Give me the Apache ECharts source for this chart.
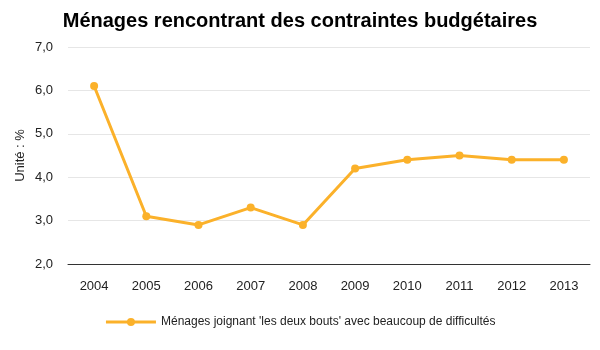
<!DOCTYPE html>
<html><head><meta charset="utf-8">
<script src="https://cdn.jsdelivr.net/npm/echarts@6/dist/echarts.min.js"></script>
<style>html,body{margin:0;padding:0;background:#fff}#c{width:600px;height:350px}</style>
</head><body><div id="c"></div>
<script>
const years = ['2004','2005','2006','2007','2008','2009','2010','2011','2012','2013'];
const values = [6.1, 3.1, 2.9, 3.3, 2.9, 4.2, 4.4, 4.5, 4.4, 4.4];
const seriesName = "Ménages joignant 'les deux bouts' avec beaucoup de difficultés";
const titleText = 'Ménages rencontrant des contraintes budgétaires';
const yName = 'Unité : %';
const font = 'Liberation Sans, Arial, sans-serif';
const chart = echarts.init(document.getElementById('c'));
chart.setOption({
  animation: false,
  title: {text: titleText, left: 'center', top: 6,
    textStyle: {fontFamily: font, fontSize: 20, fontWeight: 'bold', color: '#000'}},
  grid: {left: 68, right: 10, top: 47, bottom: 86},
  legend: {bottom: 17, left: 'center', itemWidth: 50, itemHeight: 10, itemGap: 5,
    textStyle: {fontFamily: font, fontSize: 12, color: '#222'},
    lineStyle: {width: 3},
    data: [{name: seriesName}]},
  xAxis: {type: 'category', data: years, boundaryGap: true,
    axisLine: {lineStyle: {color: '#333', width: 1}}, axisTick: {show: false},
    axisLabel: {fontFamily: font, fontSize: 13, color: '#222', margin: 16}},
  yAxis: {type: 'value', min: 2, max: 7, interval: 1,
    name: yName, nameLocation: 'middle', nameGap: 41, nameRotate: 90,
    nameMoveOverlap: false,
    nameTextStyle: {fontFamily: font, fontSize: 13, color: '#222'},
    axisLine: {show: false}, axisTick: {show: false},
    axisLabel: {fontFamily: font, fontSize: 13, color: '#222', margin: 15,
      formatter: v => v.toFixed(1).replace('.', ',')},
    splitLine: {lineStyle: {color: '#e6e6e6'}}},
  series: [{name: seriesName, type: 'line', data: values,
    symbol: 'circle', symbolSize: 8,
    lineStyle: {color: '#fbb12a', width: 3},
    itemStyle: {color: '#fbb12a'}}]
});
</script></body></html>
